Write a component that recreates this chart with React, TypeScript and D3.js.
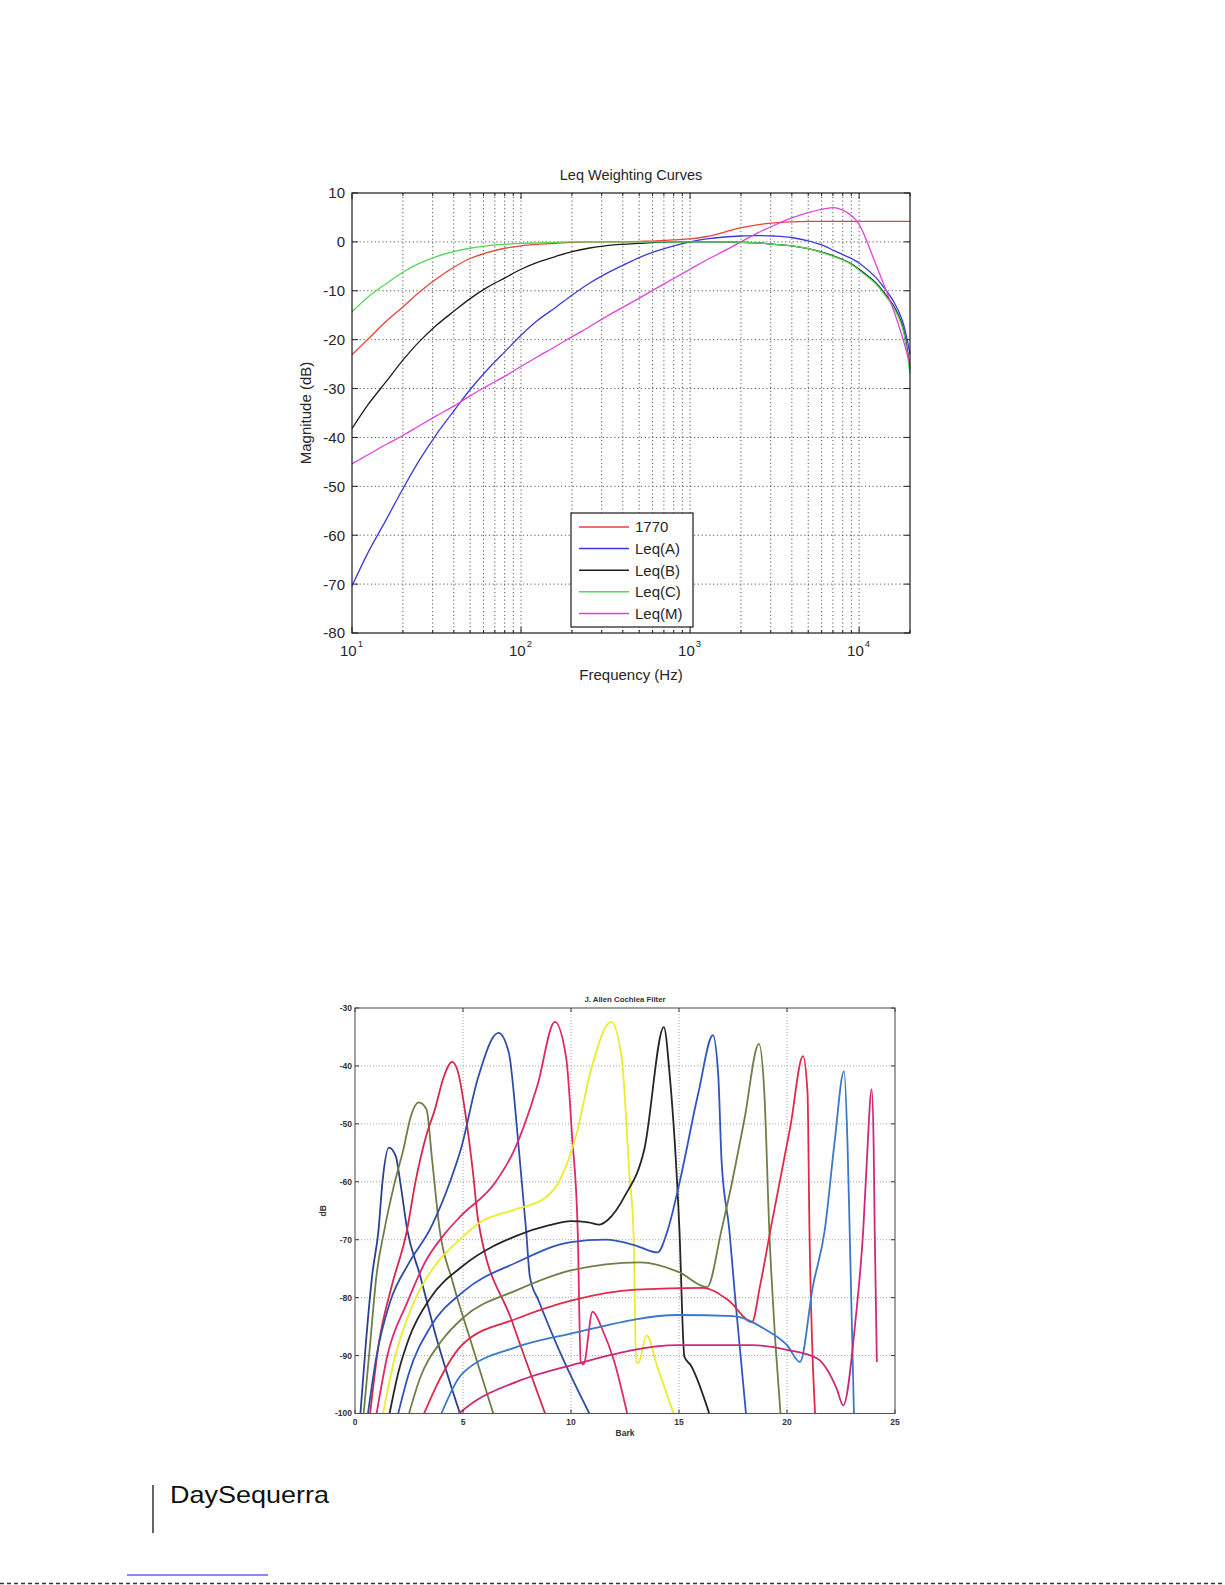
import * as d3 from 'd3';
import React from 'react';

// ---- Leq weighting curves (top plot) ----
const freqHz = [10, 12.5, 16, 20, 25, 31.5, 40, 50, 63, 80, 100, 125, 160, 200, 250, 315, 400, 500, 630, 800,
  1000, 1250, 1600, 2000, 2500, 3150, 4000, 5000, 6300, 7100, 8000, 9000, 10000, 12500, 14000, 16000, 18000, 20000];

const w1770 = [-23.1, -19.8, -16.2, -13.3, -10.3, -7.6, -5.2, -3.4, -2.2, -1.3, -0.8, -0.5, -0.3, -0.1, 0, 0, 0, 0.1, 0.2, 0.4,
  0.6, 1.1, 2.0, 2.9, 3.5, 3.9, 4.1, 4.2, 4.2, 4.2, 4.2, 4.2, 4.2, 4.2, 4.2, 4.2, 4.2, 4.2];
const leqA = [-70.4, -63.4, -56.7, -50.5, -44.7, -39.4, -34.6, -30.2, -26.2, -22.5, -19.1, -16.1, -13.4, -10.9, -8.6, -6.6, -4.8, -3.2, -1.9, -0.8,
  0, 0.6, 1.0, 1.2, 1.3, 1.2, 0.9, 0.2, -0.9, -1.8, -2.6, -3.4, -4.3, -7.2, -9.3, -12.2, -16.0, -23.0];
const leqB = [-38.2, -33.2, -28.5, -24.2, -20.4, -17.1, -14.2, -11.6, -9.3, -7.4, -5.6, -4.2, -3.0, -2.0, -1.3, -0.8, -0.5, -0.3, -0.1, 0,
  0, 0, 0, -0.1, -0.2, -0.5, -0.8, -1.4, -2.3, -2.9, -3.6, -4.5, -5.6, -8.3, -10.3, -13.1, -17.0, -26.0];
const leqC = [-14.3, -11.2, -8.5, -6.2, -4.4, -3.0, -2.0, -1.3, -0.8, -0.5, -0.3, -0.2, -0.1, 0, 0, 0, 0, 0, 0, 0,
  0, 0, 0, -0.1, -0.2, -0.5, -0.8, -1.4, -2.4, -3.0, -3.7, -4.6, -5.8, -8.5, -10.6, -13.4, -17.4, -27.0];
const leqM = [-45.4, -43.5, -41.4, -39.6, -37.6, -35.6, -33.6, -31.5, -29.5, -27.5, -25.5, -23.5, -21.4, -19.4, -17.5, -15.4, -13.4, -11.5, -9.5, -7.5,
  -5.6, -3.7, -1.8, 0, 1.8, 3.4, 4.9, 6.0, 6.8, 7.0, 6.5, 5.4, 3.6, -4.4, -8.7, -14.0, -19.4, -25.0];

const legendLabels = ['1770', 'Leq(A)', 'Leq(B)', 'Leq(C)', 'Leq(M)'];
const leqColors = ['#e4453c', '#3a3ad8', '#1c1c1c', '#52d852', '#e042dc'];
const leqSeries = [w1770, leqA, leqB, leqC, leqM];
const magTicks = [10, 0, -10, -20, -30, -40, -50, -60, -70, -80];

// ---- J. Allen cochlea filter (bottom plot) ----
const barkF1 = [0.25, 0.5, 0.8, 1.09, 1.27, 1.57, 1.89, 2.1, 2.42, 3.0, 3.7, 4.86];
const dbF1 = [-100, -88, -76, -68.3, -60.1, -54.1, -55.6, -60.2, -68.3, -76, -86, -100];
const barkF2 = [0.4, 0.7, 1.0, 1.36, 1.8, 2.24, 2.6, 2.95, 3.31, 3.57, 3.92, 4.5, 5.4, 6.4];
const dbF2 = [-100, -88, -76, -68.3, -60.7, -54.4, -48.5, -46.3, -47.5, -56.2, -68.3, -77, -88, -100];
const barkF3 = [0.7, 1.1, 1.7, 2.4, 2.8, 3.3, 3.7, 4.1, 4.5, 4.8, 5.08, 5.45, 5.7, 7.26, 8.8];
const dbF3 = [-100, -88, -78, -68.5, -60, -52, -47.5, -42, -39.3, -41.5, -47.5, -58, -66.6, -84, -100];
const barkF4 = [0.6, 1.0, 1.6, 2.5, 3.5, 4.4, 4.9, 5.7, 6.64, 7.12, 7.56, 7.92, 8.1, 8.5, 9.5, 10.85];
const dbF4 = [-100, -90, -81, -74, -68, -60, -54.4, -42, -34.3, -37.7, -53.3, -68.3, -76.5, -80.5, -89.5, -100];
const barkF5 = [1.0, 1.5, 2.4, 3.3, 4.15, 4.9, 6.5, 7.4, 8.45, 9.25, 9.78, 10.05, 10.31, 10.45, 10.58, 11.0, 11.45, 12.0, 12.6];
const dbF5 = [-100, -90, -81, -73.5, -69, -65.9, -60.1, -54.3, -43.3, -32.4, -38.7, -52.1, -68.3, -91.1, -91.5, -82.4, -85.5, -91, -100];
const barkF6 = [1.3, 1.8, 2.7, 3.8, 4.9, 5.8, 7.4, 8.8, 9.5, 10.23, 10.94, 11.86, 12.35, 12.71, 12.89, 13.02, 13.12, 13.5, 14.0, 14.75];
const dbF6 = [-100, -91, -81, -74, -69.8, -67, -64.8, -62.8, -59.6, -52.1, -40.5, -32.4, -38.7, -59, -68.3, -91.1, -91.3, -86.5, -92, -100];
const barkF7 = [1.6, 2.0, 2.5, 3.5, 5.0, 7.5, 9.0, 10.0, 10.8, 11.3, 11.7, 12.5, 13.4, 14.3, 14.57, 15.02, 15.25, 15.55, 16.4];
const dbF7 = [-100, -93, -87, -80, -74.5, -69.3, -67.5, -66.8, -67, -67.4, -66.6, -62.4, -54.3, -33.3, -41.6, -68.3, -90.2, -91.7, -100];
const barkF8 = [2.0, 2.5, 3.5, 5.0, 7.5, 10.0, 11.6, 13.0, 14.0, 14.48, 15.02, 15.9, 16.57, 16.82, 16.97, 17.33, 17.6, 18.1];
const dbF8 = [-100, -93, -85, -79, -73.9, -70.4, -70.0, -71, -72.2, -68.3, -60.2, -44.6, -34.7, -41.8, -56.3, -68.3, -80, -100];
const barkF9 = [2.5, 3.0, 4.0, 5.0, 7.5, 10.0, 13.2, 15.0, 16.3, 16.97, 17.32, 18.03, 18.7, 18.95, 19.18, 19.7];
const dbF9 = [-100, -94, -87.5, -83.5, -78.7, -75.3, -73.9, -75.6, -78.2, -68.3, -62.5, -49.2, -36.2, -44.6, -68.3, -100];
const barkF10 = [3.2, 3.8, 5.0, 7.5, 10.0, 13.0, 16.1, 17.3, 18.38, 18.75, 19.3, 20.16, 20.74, 20.95, 21.04, 21.3];
const dbF10 = [-100, -95, -88, -83.6, -80.5, -78.6, -78.3, -80.5, -84.2, -78, -67, -50.4, -38.3, -44.6, -68.3, -100];
const barkF11 = [4.0, 5.0, 7.5, 10.0, 15.0, 17.5, 19.0, 20.0, 20.6, 21.2, 21.75, 22.2, 22.64, 22.8, 22.9, 23.1];
const dbF11 = [-100, -93, -88.5, -86.2, -83, -83.2, -85.5, -88.2, -91.1, -78, -68.3, -53.3, -40.9, -53.3, -68.3, -100];
const barkF12 = [4.8, 5.5, 7.5, 10.0, 15.0, 18.4, 20.0, 21.4, 22.3, 22.6, 23.18, 23.53, 23.7, 23.92, 24.01, 24.06, 24.16];
const dbF12 = [-100, -98, -94.5, -91.7, -88.2, -88.2, -89, -90.5, -95.7, -98.6, -83.6, -68.3, -56.1, -44, -53.3, -68.3, -91.1];

const filterBark = [barkF1, barkF2, barkF3, barkF4, barkF5, barkF6, barkF7, barkF8, barkF9, barkF10, barkF11, barkF12];
const filterDb = [dbF1, dbF2, dbF3, dbF4, dbF5, dbF6, dbF7, dbF8, dbF9, dbF10, dbF11, dbF12];
const filterColors = ['#29418f', '#6f7d45', '#d42a50', '#2e4fa3', '#e0286a', '#ecec2a',
  '#262626', '#2f55c0', '#6e8046', '#e02a48', '#3a78c8', '#cc2a78'];
const barkTicks = [0, 5, 10, 15, 20, 25];
const dbTicks = [-30, -40, -50, -60, -70, -80, -90, -100];

const FONT = 'Liberation Sans, Arial, Helvetica, sans-serif';

function LeqChart() {
  const x = d3.scaleLog().domain([10, 20000]).range([352, 910]);
  const y = d3.scaleLinear().domain([-80, 10]).range([633, 193]);
  const [left, right] = x.range();
  const [bottom, top] = y.range();
  const line = d3.line<number>()
    .x((_d, i) => x(freqHz[i]))
    .y(d => y(d))
    .curve(d3.curveCatmullRom.alpha(0.5));
  const logTicks = x.ticks();
  const isMajor = (f: number) => Math.abs(Math.log10(f) - Math.round(Math.log10(f))) < 1e-9;
  const decades = logTicks.filter(isMajor);

  return (
    <g fontFamily={FONT}>
      <text x={(left + right) / 2} y={180} textAnchor="middle" fontSize={14.5} fill="#262626">Leq Weighting Curves</text>
      {/* grid */}
      {logTicks.filter(f => f > 10 && f < 20000).map(f => (
        <line key={'gx' + f} x1={x(f)} x2={x(f)} y1={top} y2={bottom}
          stroke="#444" strokeWidth={0.9} strokeDasharray="1.2,2.6" />
      ))}
      {magTicks.filter(v => v > -80 && v < 10).map(v => (
        <line key={'gy' + v} x1={left} x2={right} y1={y(v)} y2={y(v)}
          stroke="#444" strokeWidth={0.9} strokeDasharray="1.2,2.6" />
      ))}
      {/* ticks */}
      {logTicks.map(f => {
        const len = isMajor(f) ? 6 : 3;
        return (
          <g key={'tx' + f}>
            <line x1={x(f)} x2={x(f)} y1={bottom} y2={bottom - len} stroke="#222" />
            <line x1={x(f)} x2={x(f)} y1={top} y2={top + len} stroke="#222" />
          </g>
        );
      })}
      {magTicks.map(v => (
        <g key={'ty' + v}>
          <line x1={left} x2={left + 6} y1={y(v)} y2={y(v)} stroke="#222" />
          <line x1={right} x2={right - 6} y1={y(v)} y2={y(v)} stroke="#222" />
          <text x={left - 7} y={y(v)} dy="0.36em" textAnchor="end" fontSize={15} fill="#262626">{v}</text>
        </g>
      ))}
      {decades.map(f => (
        <text key={'lx' + f} x={x(f) - 12} y={656} fontSize={15} fill="#262626">
          10<tspan dx={1} dy={-9} fontSize={9.5}>{Math.round(Math.log10(f))}</tspan>
        </text>
      ))}
      <text x={(left + right) / 2} y={680} textAnchor="middle" fontSize={15} fill="#262626">Frequency (Hz)</text>
      <text transform={`translate(311,${(top + bottom) / 2}) rotate(-90)`} textAnchor="middle" fontSize={15} fill="#262626">Magnitude (dB)</text>
      {/* curves */}
      {leqSeries.map((s, i) => (
        <path key={legendLabels[i]} d={line(s) ?? ''} fill="none" stroke={leqColors[i]} strokeWidth={1.3} />
      ))}
      <rect x={left} y={top} width={right - left} height={bottom - top} fill="none" stroke="#1a1a1a" strokeWidth={1.2} />
      {/* legend */}
      <rect x={571} y={513} width={122} height={114} fill="#fff" stroke="#1a1a1a" strokeWidth={1.2} />
      {legendLabels.map((lab, i) => {
        const ly = 527 + i * 21.6;
        return (
          <g key={'lg' + lab}>
            <line x1={579} x2={629} y1={ly} y2={ly} stroke={leqColors[i]} strokeWidth={1.5} />
            <text x={635} y={ly} dy="0.36em" fontSize={15} fill="#262626">{lab}</text>
          </g>
        );
      })}
    </g>
  );
}

function CochleaChart() {
  const x = d3.scaleLinear().domain([0, 25]).range([355, 895]);
  const y = d3.scaleLinear().domain([-100, -30]).range([1413.5, 1008]);
  const [left, right] = x.range();
  const [bottom, top] = y.range();

  return (
    <g fontFamily={FONT}>
      <defs>
        <clipPath id="cochleaClip">
          <rect x={left} y={top} width={right - left} height={bottom - top} />
        </clipPath>
      </defs>
      <text x={(left + right) / 2} y={1002} textAnchor="middle" fontSize={7.8} fontWeight="bold" fill="#333">J. Allen Cochlea Filter</text>
      {barkTicks.filter(b => b > 0 && b < 25).map(b => (
        <line key={'gx' + b} x1={x(b)} x2={x(b)} y1={top} y2={bottom}
          stroke="#9a9a9a" strokeWidth={0.9} strokeDasharray="1,2" />
      ))}
      {dbTicks.filter(v => v > -100 && v < -30).map(v => (
        <line key={'gy' + v} x1={left} x2={right} y1={y(v)} y2={y(v)}
          stroke="#9a9a9a" strokeWidth={0.9} strokeDasharray="1,2" />
      ))}
      <g clipPath="url(#cochleaClip)">
        {filterBark.map((bark, i) => {
          const line = d3.line<number>()
            .x((_d, j) => x(bark[j]))
            .y(d => y(d))
            .curve(d3.curveMonotoneX);
          return <path key={'f' + i} d={line(filterDb[i]) ?? ''} fill="none" stroke={filterColors[i]} strokeWidth={1.8} />;
        })}
      </g>
      {barkTicks.map(b => (
        <g key={'tx' + b}>
          <line x1={x(b)} x2={x(b)} y1={bottom} y2={bottom - 4} stroke="#333" />
          <line x1={x(b)} x2={x(b)} y1={top} y2={top + 4} stroke="#333" />
          <text x={x(b)} y={1425} textAnchor="middle" fontSize={8.5} fontWeight="bold" fill="#333">{b}</text>
        </g>
      ))}
      {dbTicks.map(v => (
        <g key={'ty' + v}>
          <line x1={left} x2={left + 4} y1={y(v)} y2={y(v)} stroke="#333" />
          <line x1={right} x2={right - 4} y1={y(v)} y2={y(v)} stroke="#333" />
          <text x={352} y={y(v)} dy="0.35em" textAnchor="end" fontSize={8.5} fontWeight="bold" fill="#333">{v}</text>
        </g>
      ))}
      <rect x={left} y={top} width={right - left} height={bottom - top} fill="none" stroke="#555" strokeWidth={1.1} />
      <text x={(left + right) / 2} y={1436} textAnchor="middle" fontSize={8.5} fontWeight="bold" fill="#333">Bark</text>
      <text transform={`translate(326,${(top + bottom) / 2}) rotate(-90)`} textAnchor="middle" fontSize={8.5} fontWeight="bold" fill="#333">dB</text>
    </g>
  );
}

function Footer() {
  return (
    <g fontFamily={FONT}>
      <line x1={153} x2={153} y1={1485} y2={1533} stroke="#111" strokeWidth={1.3} />
      <text x={170} y={1503} fontSize={24} fill="#111" textLength={159} lengthAdjust="spacingAndGlyphs">DaySequerra</text>
      <line x1={127} x2={268} y1={1575} y2={1575} stroke="#1414e8" strokeWidth={1.2} />
      <line x1={0} x2={1225} y1={1583.5} y2={1583.5} stroke="#333" strokeWidth={1.5} strokeDasharray="4,3" />
    </g>
  );
}

export default function App() {
  return (
    <svg width={1225} height={1585} style={{ position: 'absolute', left: 0, top: 0, display: 'block', background: '#fff' }}>
      <LeqChart />
      <CochleaChart />
      <Footer />
    </svg>
  );
}
